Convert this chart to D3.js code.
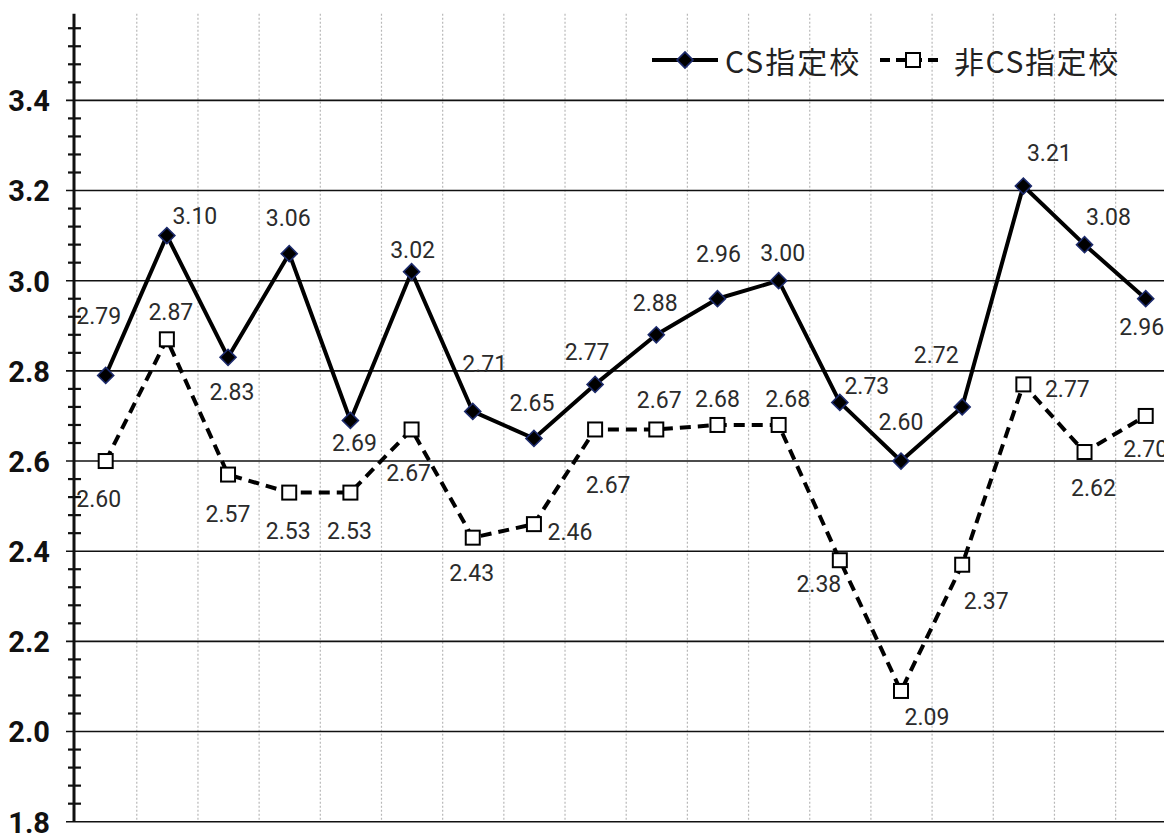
<!DOCTYPE html>
<html>
<head>
<meta charset="utf-8">
<script src="https://cdn.jsdelivr.net/npm/d3@7"></script>
<style>
  html, body { margin: 0; padding: 0; background: #fff; }
  svg { display: block; }
</style>
</head>
<body>
<svg id="chart" width="1164" height="834"></svg>
<script>
// Item numbers along the horizontal axis (not labelled)
const categories = ["1","2","3","4","5","6","7","8","9","10","11","12","13","14","15","16","17","18"];

// Mean scores per item
const csValues    = [2.79, 3.10, 2.83, 3.06, 2.69, 3.02, 2.71, 2.65, 2.77, 2.88, 2.96, 3.00, 2.73, 2.60, 2.72, 3.21, 3.08, 2.96];
const nonCsValues = [2.60, 2.87, 2.57, 2.53, 2.53, 2.67, 2.43, 2.46, 2.67, 2.67, 2.68, 2.68, 2.38, 2.09, 2.37, 2.77, 2.62, 2.70];

const seriesNames = ["CS指定校", "非CS指定校"];
const yTickValues = [1.8, 2.0, 2.2, 2.4, 2.6, 2.8, 3.0, 3.2, 3.4];

// Label nudges (dx, dy) relative to each marker, in pixels
const csLabelOffset = [[-7,-60],[28,-20],[4,34],[-1,-36],[4,22],[1,-22],[12,-48],[-2,-36],[-8,-33],[-1,-32],[1,-45],[4,-28],[27,-17],[0,-39],[-26,-52],[26,-33],[24,-28],[-4,28]];
const nonCsLabelOffset = [[-7,38],[4,-28],[0,39],[-1,38],[-1,38],[-3,43],[-1,35],[36,8],[13,55],[3,-30],[0,-26],[9,-26],[-21,24],[26,26],[24,36],[44,4],[9,36],[0,33]];

const svg = d3.select("#chart");

const x = d3.scaleBand().domain(categories).range([75.1, 1176.3]);
const cx = c => x(c) + x.bandwidth() / 2;
const y = d3.scaleLinear().domain([1.8, 3.6]).range([821.7, 10.2]);

const axisX = 74;
const rightEdge = 1164;
const topY = y(3.592);

// vertical dotted separators between items
svg.append("g").selectAll("line")
  .data(categories.slice(1))
  .join("line")
  .attr("x1", d => x(d) + 0.5).attr("x2", d => x(d) + 0.5)
  .attr("y1", topY).attr("y2", y(1.8))
  .attr("stroke", "#b8b8b8")
  .attr("stroke-width", 1.2)
  .attr("stroke-dasharray", "2,2");

// horizontal grid lines on the major ticks
svg.append("g").selectAll("line")
  .data(yTickValues)
  .join("line")
  .attr("x1", 66).attr("x2", rightEdge)
  .attr("y1", d => y(d)).attr("y2", d => y(d))
  .attr("stroke", "#111")
  .attr("stroke-width", 1.6);

// y axis with bold labels
const yAxis = d3.axisLeft(y)
  .tickValues(yTickValues)
  .tickSize(0)
  .tickPadding(24)
  .tickFormat(d3.format(".1f"));
const gAxis = svg.append("g")
  .attr("transform", `translate(${axisX},0)`)
  .call(yAxis);
gAxis.select(".domain").remove();
gAxis.selectAll("text")
  .attr("font-family", "Roboto, 'Liberation Sans', sans-serif")
  .attr("font-weight", "bold")
  .attr("font-size", 29)
  .attr("fill", "#111")
  .attr("dy", "0.36em");

// minor ticks every 0.04
const minorTicks = d3.range(1.84, 3.58, 0.04).filter(v => Math.abs(Math.round(v * 5) - v * 5) > 1e-6);
svg.append("g").selectAll("line")
  .data(minorTicks)
  .join("line")
  .attr("x1", 68).attr("x2", 81)
  .attr("y1", d => y(d)).attr("y2", d => y(d))
  .attr("stroke", "#111")
  .attr("stroke-width", 2.2);

// axis line
svg.append("line")
  .attr("x1", axisX).attr("x2", axisX)
  .attr("y1", topY).attr("y2", y(1.8))
  .attr("stroke", "#111")
  .attr("stroke-width", 3);

const line = d3.line().x((d, i) => cx(categories[i])).y(d => y(d));

// non-CS series: dashed line + open squares
svg.append("path")
  .datum(nonCsValues)
  .attr("d", line)
  .attr("fill", "none")
  .attr("stroke", "#000")
  .attr("stroke-width", 4)
  .attr("stroke-dasharray", "11,7");

// CS series: solid line + diamonds
svg.append("path")
  .datum(csValues)
  .attr("d", line)
  .attr("fill", "none")
  .attr("stroke", "#000")
  .attr("stroke-width", 4)
  .attr("stroke-linejoin", "round");

const sq = 14;
svg.append("g").selectAll("rect")
  .data(nonCsValues)
  .join("rect")
  .attr("x", (d, i) => cx(categories[i]) - sq / 2)
  .attr("y", d => y(d) - sq / 2)
  .attr("width", sq).attr("height", sq)
  .attr("fill", "#fff")
  .attr("stroke", "#000")
  .attr("stroke-width", 2);

const diamond = d3.symbol().type(d3.symbolSquare).size(128);
svg.append("g").selectAll("path")
  .data(csValues)
  .join("path")
  .attr("d", diamond)
  .attr("transform", (d, i) => `translate(${cx(categories[i])},${y(d)}) rotate(45)`)
  .attr("fill", "#000")
  .attr("stroke", "#1c2a6b")
  .attr("stroke-width", 1.6);

// value labels
function drawLabels(values, offsets) {
  svg.append("g").selectAll("text")
    .data(values)
    .join("text")
    .attr("x", (d, i) => cx(categories[i]) + offsets[i][0])
    .attr("y", (d, i) => y(d) + offsets[i][1] + 8.2)
    .attr("text-anchor", "middle")
    .attr("font-family", "Roboto, 'Liberation Sans', sans-serif")
    .attr("font-size", 23)
    .attr("fill", "#2b2b2b")
    .text(d => d.toFixed(2));
}
drawLabels(csValues, csLabelOffset);
drawLabels(nonCsValues, nonCsLabelOffset);

// legend
const legendY = 60;
const lg = svg.append("g");
lg.append("line")
  .attr("x1", 652).attr("x2", 718).attr("y1", legendY).attr("y2", legendY)
  .attr("stroke", "#000").attr("stroke-width", 4);
lg.append("path")
  .attr("d", diamond)
  .attr("transform", `translate(685,${legendY}) rotate(45)`)
  .attr("fill", "#000").attr("stroke", "#1c2a6b").attr("stroke-width", 1.6);
lg.append("text")
  .attr("x", 725).attr("y", legendY)
  .attr("dominant-baseline", "central")
  .attr("font-family", "'Noto Sans CJK JP', sans-serif")
  .attr("font-size", 30)
  .attr("letter-spacing", 2)
  .attr("fill", "#222")
  .text(seriesNames[0]);

lg.append("line")
  .attr("x1", 880).attr("x2", 944).attr("y1", legendY).attr("y2", legendY)
  .attr("stroke", "#000").attr("stroke-width", 4)
  .attr("stroke-dasharray", "10,6");
lg.append("rect")
  .attr("x", 913 - sq / 2).attr("y", legendY - sq / 2)
  .attr("width", sq).attr("height", sq)
  .attr("fill", "#fff").attr("stroke", "#000").attr("stroke-width", 2);
lg.append("text")
  .attr("x", 954).attr("y", legendY)
  .attr("dominant-baseline", "central")
  .attr("font-family", "'Noto Sans CJK JP', sans-serif")
  .attr("font-size", 30)
  .attr("letter-spacing", 1.6)
  .attr("fill", "#222")
  .text(seriesNames[1]);
</script>
</body>
</html>
